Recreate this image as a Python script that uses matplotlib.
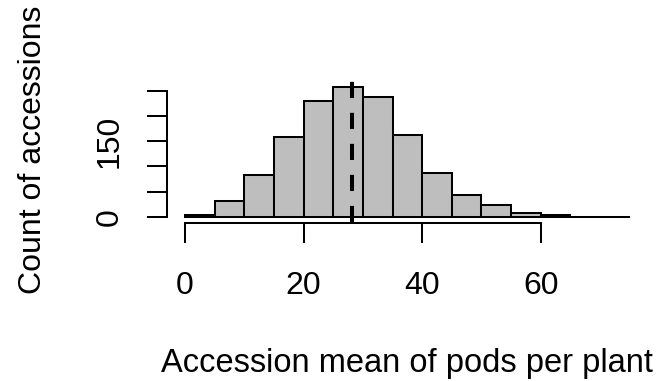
import matplotlib
matplotlib.use("Agg")
import matplotlib.pyplot as plt

# histogram data (bins of width 5)
bin_edges = [0, 5, 10, 15, 20, 25, 30, 35, 40, 45, 50, 55, 60, 65, 70, 75]
counts = [3, 31, 83, 158, 230, 258, 238, 162, 86, 43, 23, 8, 3, 0, 0]
mean_value = 28.1

x_ticks = [0, 20, 40, 60]
y_ticks = [0, 50, 100, 150, 200, 250]
y_tick_labels = ["0", "", "", "150", "", ""]

plt.rcParams['font.family'] = ['Liberation Sans', 'DejaVu Sans']

fig = plt.figure(figsize=(6.62, 3.81), dpi=100)
ax = fig.add_axes([0.2526, 0.4176, 0.7255, 0.3685])

widths = [b - a for a, b in zip(bin_edges[:-1], bin_edges[1:])]
ax.bar(bin_edges[:-1], counts, width=widths, align='edge',
       color='#BEBEBE', edgecolor='black', linewidth=1.45)

# dashed line at the mean
ax.axvline(mean_value, color='black', linewidth=2.9,
           linestyle=(0, (4, 3.7)), dash_capstyle='butt')

# R-like axis extents (4% padding)
ymax = max(counts)
ax.set_ylim(-0.04 * ymax, 1.04 * ymax)
span = bin_edges[-1] - bin_edges[0]
ax.set_xlim(bin_edges[0] - 0.04 * span, bin_edges[-1] + 0.04 * span)

for side in ['top', 'right']:
    ax.spines[side].set_visible(False)
ax.spines['bottom'].set_bounds(x_ticks[0], x_ticks[-1])
ax.spines['left'].set_bounds(y_ticks[0], y_ticks[-1])
ax.spines['bottom'].set_position(('outward', 1))
ax.spines['bottom'].set_linewidth(1.45)
ax.spines['left'].set_linewidth(1.45)

ax.set_xticks(x_ticks)
ax.set_xticklabels([str(t) for t in x_ticks])
ax.set_yticks(y_ticks)
ax.set_yticklabels(y_tick_labels, rotation=90, va='center')
ax.tick_params(axis='x', length=14.2, width=1.45, pad=20, labelsize=23)
ax.tick_params(axis='y', length=14.4, width=1.45, pad=16, labelsize=23)

ax.set_xlabel("Accession mean of pods per plant", fontsize=23.5, va='baseline')
ax.xaxis.set_label_coords(0.5, -1.067)
ax.set_ylabel("Count of accessions", fontsize=23, va='baseline')
ax.yaxis.set_label_coords(-0.263, 0.512)

fig.savefig("out.png", dpi=100)
